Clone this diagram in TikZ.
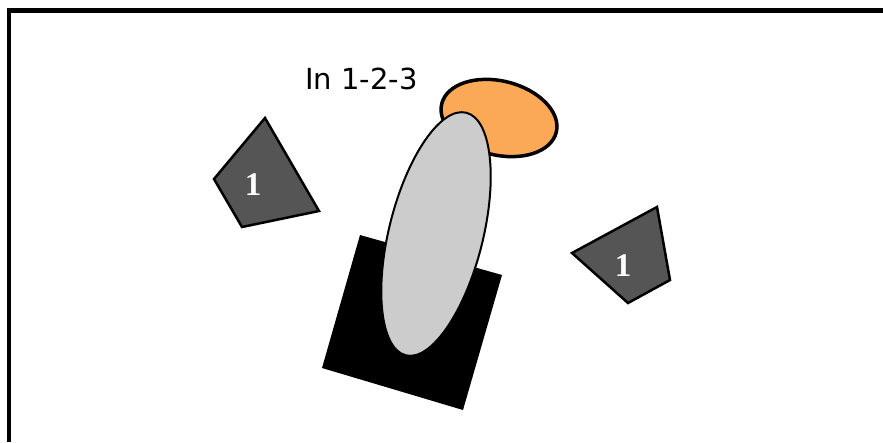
\documentclass[tikz,border=0pt]{standalone}
\usepackage{fontspec}
\setmainfont{Liberation Serif}
\newfontfamily\titlefont{DejaVu Sans}
\usepackage{tikz}
\definecolor{slab}{RGB}{85,85,85}
\definecolor{cap}{RGB}{251,169,86}
\definecolor{stem}{RGB}{204,204,204}

\begin{document}
\begin{tikzpicture}[x=1pt, y=-1pt, piece/.style={draw=black, fill=slab, line width=2.5pt, line join=miter}, num/.style={text=white, font=\fontsize{33}{33}\selectfont\bfseries, inner sep=0pt}]
\useasboundingbox (0,0) rectangle (883,442);
\draw[line width=4.5pt] (9,442) -- (9,10.5) -- (883,10.5);
\draw[piece] (265,118) -- (214,179) -- (242,227) -- (319,211) -- cycle;
\node[num] (one-left) at (253,185) {1};
\draw[piece] (657,207) -- (572,253) -- (628,303) -- (670,280) -- cycle;
\node[num] (one-right) at (623,266) {1};
\fill[black] (360,235) -- (502,275) -- (463,410) -- (322,368) -- cycle;
\draw[fill=cap, line width=3.5pt] (499,118) ellipse [x radius=59, y radius=37, rotate=-14];
\draw[fill=stem, line width=2pt] (436,234) ellipse [x radius=125, y radius=47, rotate=76];
\node[font=\titlefont\fontsize{29}{30}\selectfont, anchor=base west, inner sep=0pt] (title) at (305,89) {In 1-2-3};
\end{tikzpicture}
\end{document}
